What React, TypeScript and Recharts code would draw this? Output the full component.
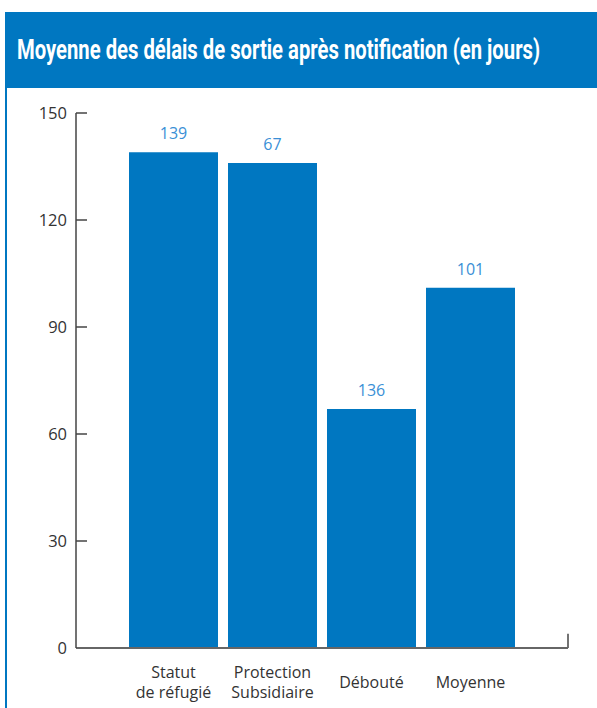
import { useLayoutEffect, useRef, useState } from "react";
import { Bar, BarChart, LabelList, ReferenceLine, XAxis, YAxis } from "recharts";

// délais moyens (jours) par type de décision
const categories = ["Statut de réfugié", "Protection Subsidiaire", "Débouté", "Moyenne"];
const delays = [139, 136, 67, 101];
const printedLabels = ["139", "67", "136", "101"];
const yTicks = [0, 30, 60, 90, 120, 150];

const data = categories.map((name, i) => ({ name, value: delays[i], label: printedLabels[i] }));

const TITLE = "Moyenne des délais de sortie après notification (en jours)";
const BLUE = "#0077c1";
const FONT = "'Open Sans', 'DejaVu Sans', sans-serif";

function YTick(props: any) {
    const { x, y, payload } = props;
    return (
        <g>
            {payload.value !== 0 && <line x1={x + 8} x2={x + 19} y1={y} y2={y} stroke="#444" strokeWidth={1.5} />}
            <text x={x - 1} y={y} dy={6} textAnchor="end" fill="#333" fontSize={16.5} fontFamily={FONT}>
                {payload.value}
            </text>
        </g>
    );
}

function XTick(props: any) {
    const { x, y, payload } = props;
    const name = String(payload.value);
    let lines = [name];
    if (name === "Statut de réfugié") lines = ["Statut", "de réfugié"];
    if (name === "Protection Subsidiaire") lines = ["Protection", "Subsidiaire"];
    const startY = lines.length > 1 ? y + 22 : y + 32;
    return (
        <text textAnchor="middle" fill="#333" fontSize={16} fontFamily={FONT}>
            {lines.map((l, i) => (
                <tspan key={i} x={x} y={startY + i * 20}>
                    {l}
                </tspan>
            ))}
        </text>
    );
}

// condensed look: squeeze the bold title horizontally to a fixed width
function Title() {
    const ref = useRef<SVGTextElement>(null);
    const [sx, setSx] = useState(0.67);
    useLayoutEffect(() => {
        if (ref.current) {
            const w = ref.current.getComputedTextLength();
            if (w > 0) setSx(523 / w);
        }
    }, []);
    return (
        <svg style={{ position: "absolute", left: 5, top: 12 }} width={592} height={76}>
            <rect width={592} height={76} fill={BLUE} />
            <g transform={`translate(12 47) scale(${sx} 1)`}>
                <text
                    ref={ref}
                    x={0}
                    y={0}
                    fill="#fff"
                    fontFamily="Roboto, 'Liberation Sans', sans-serif"
                    fontWeight={700}
                    fontSize={27}
                >
                    {TITLE}
                </text>
            </g>
        </svg>
    );
}

export default function App() {
    return (
        <div style={{ position: "absolute", left: 0, top: 0, width: 597, height: 708, background: "#fff" }}>
            <Title />
            <div style={{ position: "absolute", left: 5, top: 88, width: 2, height: 620, background: BLUE }} />
            <BarChart
                width={597}
                height={708}
                data={data}
                margin={{ top: 113, right: 29, bottom: 0, left: 0 }}
                barCategoryGap={5}
            >
                <XAxis
                    xAxisId="edge"
                    dataKey="value"
                    type="number"
                    domain={[0, 1]}
                    allowDataOverflow
                    hide
                />
                <XAxis
                    dataKey="name"
                    height={60}
                    padding={{ left: 48, right: 48 }}
                    axisLine={{ stroke: "#666", strokeWidth: 2 }}
                    tickLine={false}
                    tick={<XTick />}
                    interval={0}
                />
                <YAxis
                    width={76}
                    domain={[0, 150]}
                    ticks={yTicks}
                    tickSize={0}
                    tickMargin={8}
                    axisLine={{ stroke: "#444", strokeWidth: 1.5 }}
                    tickLine={false}
                    tick={<YTick />}
                    interval={0}
                />
                {/* small upright stroke closing the baseline on the right */}
                <ReferenceLine
                    xAxisId="edge"
                    segment={[
                        { x: 1, y: 0 },
                        { x: 1, y: 4 },
                    ]}
                    stroke="#444"
                    strokeWidth={1.5}
                    ifOverflow="visible"
                />
                <Bar dataKey="value" fill={BLUE} isAnimationActive={false}>
                    <LabelList
                        dataKey="label"
                        position="top"
                        offset={13}
                        fill="#3a8fd6"
                        fontSize={16}
                        fontFamily={FONT}
                    />
                </Bar>
            </BarChart>
        </div>
    );
}
